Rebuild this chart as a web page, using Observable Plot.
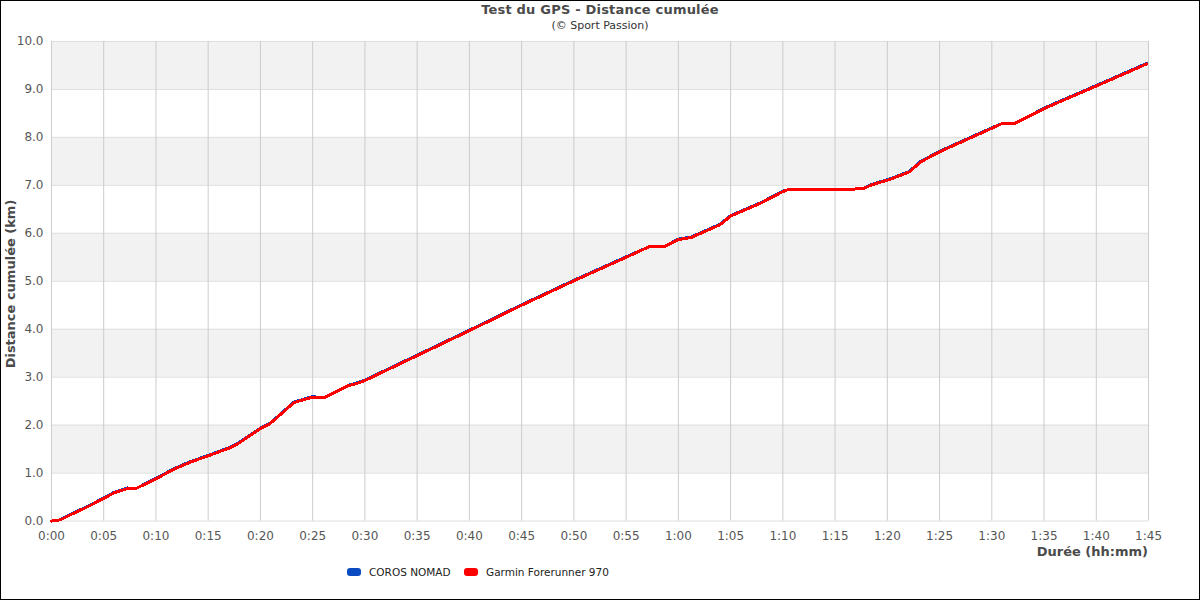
<!DOCTYPE html>
<html>
<head>
<meta charset="utf-8">
<script src="https://cdn.jsdelivr.net/npm/d3@7"></script>
<script src="https://cdn.jsdelivr.net/npm/@observablehq/plot@0.6"></script>
<style>
  html, body { margin: 0; padding: 0; background: #fff; }
  #wrap { position: relative; width: 1200px; height: 600px; box-sizing: border-box; border: 1px solid #000; overflow: hidden; font-family: "DejaVu Sans", sans-serif; }
  #chart { position: absolute; left: -1px; top: -1px; }
  .abs { position: absolute; white-space: nowrap; }
  #title { left: 0; width: 1198px; top: 1px; text-align: center; font-weight: bold; font-size: 13px; color: #4a4a4a; letter-spacing: 0.2px; }
  #subtitle { left: 0; width: 1198px; top: 18px; text-align: center; font-size: 11px; color: #333; }
  #ylabel { left: 9px; top: 283px; transform: translate(-50%, -50%) rotate(-90deg); font-weight: bold; font-size: 13px; color: #4a4a4a; }
  #xlabel { right: 51px; top: 543px; font-weight: bold; font-size: 13px; color: #4a4a4a; }
  .legend-item { top: 565px; font-size: 10.5px; color: #222; display: flex; align-items: center; }
  .sw { display: inline-block; width: 14px; height: 8px; border-radius: 3px; margin-right: 8px; }
</style>
</head>
<body>
<div id="wrap">
  <div id="chart"></div>
  <div class="abs" id="title">Test du GPS - Distance cumulée</div>
  <div class="abs" id="subtitle">(© Sport Passion)</div>
  <div class="abs" id="ylabel">Distance cumulée (km)</div>
  <div class="abs" id="xlabel">Durée (hh:mm)</div>
  <div class="abs legend-item" id="leg1" style="left:346px"><span class="sw" style="background:#0a4bc2"></span>COROS NOMAD</div>
  <div class="abs legend-item" id="leg2" style="left:463px"><span class="sw" style="background:#ff0000"></span>Garmin Forerunner 970</div>
</div>
<script>
// Elapsed time in minutes
const minutes = [0, 0.7, 0.9, 2.0, 3.1, 5.0, 6.0, 7.3, 8.1, 10.0, 11.7, 13.3, 15.0, 17.1, 17.9, 20.0, 20.9, 21.6, 23.2, 24.9, 26.2, 28.4, 29.1, 30.0, 35.0, 40.0, 45.0, 50.0, 55.0, 57.3, 58.7, 60.0, 61.2, 64.0, 65.0, 67.9, 70.0, 70.5, 76.2, 77.8, 78.4, 79.1, 80.2, 82.1, 83.2, 85.1, 90.2, 90.9, 92.1, 95.2, 100.3, 104.8];
// Cumulative distance (km) - Garmin Forerunner 970
const garmin = [0, 0.02, 0.03, 0.15, 0.26, 0.47, 0.59, 0.68, 0.68, 0.88, 1.08, 1.23, 1.36, 1.53, 1.62, 1.93, 2.03, 2.16, 2.47, 2.58, 2.58, 2.82, 2.86, 2.93, 3.45, 3.97, 4.50, 5.01, 5.50, 5.73, 5.73, 5.87, 5.91, 6.18, 6.36, 6.63, 6.87, 6.91, 6.91, 6.94, 7.00, 7.05, 7.12, 7.28, 7.49, 7.71, 8.21, 8.28, 8.28, 8.62, 9.10, 9.53];
// Cumulative distance (km) - COROS NOMAD
const coros = [0, 0.02, 0.04, 0.16, 0.27, 0.48, 0.60, 0.69, 0.68, 0.89, 1.09, 1.24, 1.37, 1.54, 1.63, 1.94, 2.04, 2.17, 2.48, 2.59, 2.58, 2.83, 2.87, 2.94, 3.46, 3.98, 4.51, 5.02, 5.51, 5.73, 5.73, 5.88, 5.92, 6.19, 6.37, 6.64, 6.88, 6.91, 6.91, 6.94, 7.01, 7.06, 7.13, 7.29, 7.50, 7.72, 8.22, 8.28, 8.28, 8.63, 9.11, 9.54];
const seriesNames = ["COROS NOMAD", "Garmin Forerunner 970"];
const seriesColors = ["#0a4bc2", "#ff0000"];
const xTicks = d3.range(0, 106, 5);
const yTicks = d3.range(0, 11, 1);
const bandStarts = [1, 3, 5, 7, 9];

const fmtTime = m => `${Math.floor(m / 60)}:${String(m % 60).padStart(2, "0")}`;
const corosData = minutes.map((t, i) => ({t, km: coros[i]}));
const garminData = minutes.map((t, i) => ({t, km: garmin[i]}));
const bands = bandStarts.map(b => ({y1: b, y2: b + 1}));

const chart = Plot.plot({
  width: 1200,
  height: 600,
  marginLeft: 51,
  marginRight: 51,
  marginTop: 41,
  marginBottom: 79,
  style: {fontFamily: "DejaVu Sans, sans-serif", fontSize: "12px", color: "#555", background: "transparent"},
  x: {domain: [0, 105]},
  y: {domain: [0, 10]},
  marks: [
    Plot.rect(bands, {x1: 0, x2: 105, y1: "y1", y2: "y2", fill: "#f2f2f2"}),
    Plot.gridY(yTicks, {stroke: "#dedede", strokeOpacity: 1}),
    Plot.gridX(xTicks, {stroke: "#cccccc", strokeOpacity: 1}),
    Plot.axisX({ticks: xTicks, tickFormat: fmtTime, tickSize: 0, tickPadding: 10, label: null, fill: "#555"}),
    Plot.axisY({ticks: yTicks, tickFormat: d => d.toFixed(1), tickSize: 0, tickPadding: 8, label: null, fill: "#555"}),
    Plot.line(corosData, {x: "t", y: "km", stroke: seriesColors[0], strokeWidth: 3, shapeRendering: "crispEdges"}),
    Plot.line(garminData, {x: "t", y: "km", stroke: seriesColors[1], strokeWidth: 3, shapeRendering: "crispEdges"})
  ]
});
document.getElementById("chart").appendChild(chart);
</script>
</body>
</html>
